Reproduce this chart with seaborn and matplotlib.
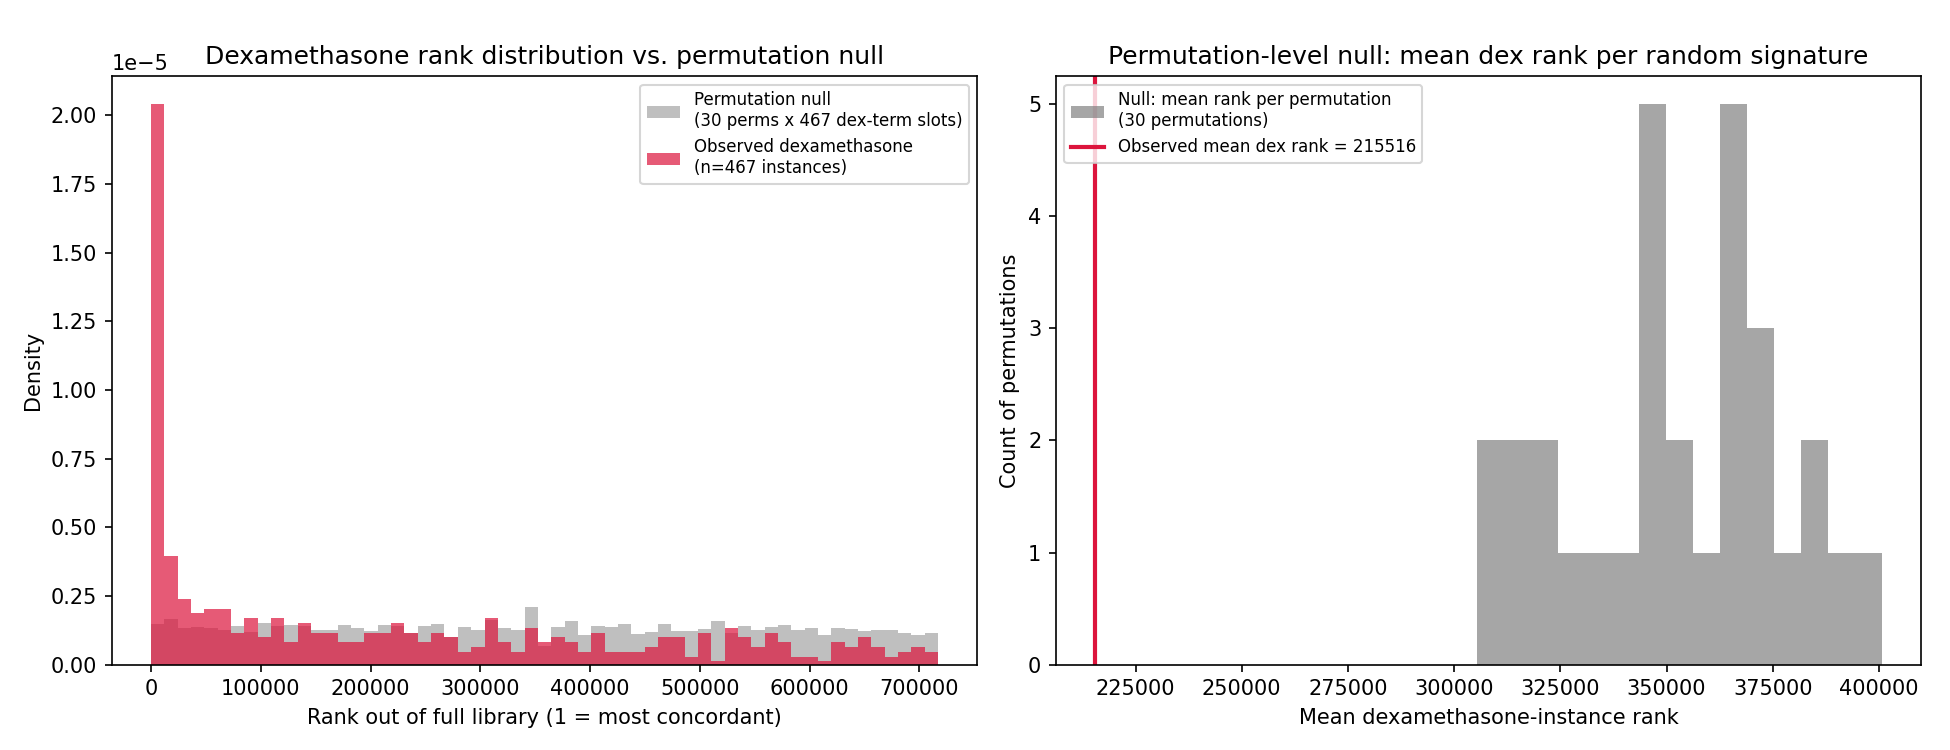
import matplotlib
matplotlib.use("Agg")
import matplotlib.pyplot as plt
import seaborn as sns
import numpy as np
import pandas as pd

# --- dados ---
# painel esquerdo: densidade por bin (x 1e-6), 59 bins de 0 a 717000
rank_max = 717000
n_bins_rank = 59
null_density = [1.46, 1.67, 1.34, 1.38, 1.34, 1.27, 1.41, 1.20, 1.52, 1.41,
                1.45, 1.41, 1.27, 1.27, 1.45, 1.34, 1.23, 1.45, 1.41, 1.16,
                1.41, 1.49, 1.01, 1.38, 1.27, 1.61, 1.34, 1.27, 2.10, 0.69,
                1.38, 1.59, 1.09, 1.41, 1.38, 1.49, 1.12, 1.20, 1.49, 1.23,
                1.23, 1.30, 1.59, 1.16, 1.41, 1.27, 1.38, 1.45, 1.27, 1.34,
                1.09, 1.34, 1.30, 1.23, 1.27, 1.27, 1.16, 1.09, 1.16]
obs_density = [20.4, 3.95, 2.39, 1.88, 2.03, 2.03, 1.16, 1.70, 1.01, 1.70,
               0.83, 1.52, 1.16, 1.16, 0.83, 0.83, 1.16, 1.16, 1.52, 1.16,
               0.83, 1.16, 1.01, 0.47, 0.65, 1.70, 0.83, 0.47, 1.34, 0.83,
               1.01, 0.83, 0.47, 1.16, 0.47, 0.47, 0.47, 0.65, 1.01, 1.01,
               0.29, 1.16, 0.145, 1.34, 1.01, 0.65, 1.16, 0.83, 0.29, 0.29,
               0.145, 0.83, 0.65, 1.01, 0.65, 0.29, 0.47, 0.65, 0.47]

# painel direito: contagem de permutacoes por bin (15 bins)
perm_lo = 305300
perm_hi = 400700
perm_counts = [2, 2, 2, 1, 1, 1, 5, 2, 1, 5, 3, 1, 2, 1, 1]
obs_mean_rank = 215516

edges = np.linspace(0, rank_max, n_bins_rank + 1)
df_rank = pd.DataFrame({
    'rank': (edges[:-1] + edges[1:]) / 2,
    'null': np.array(null_density) * 1e-6,
    'obs': np.array(obs_density) * 1e-6,
})
p_edges = np.linspace(perm_lo, perm_hi, len(perm_counts) + 1)
df_perm = pd.DataFrame({
    'mean_rank': (p_edges[:-1] + p_edges[1:]) / 2,
    'count': perm_counts,
})

fig, axes = plt.subplots(1, 2, figsize=(13, 5), dpi=150)

# --- 1. distribuicao de ranks ---
ax = axes[0]
sns.histplot(data=df_rank, x='rank', weights='null', bins=edges.tolist(),
             color='grey', alpha=0.5, linewidth=0, ax=ax,
             label='Permutation null\n(30 perms x 467 dex-term slots)')
sns.histplot(data=df_rank, x='rank', weights='obs', bins=edges.tolist(),
             color='crimson', alpha=0.7, linewidth=0, ax=ax,
             label='Observed dexamethasone\n(n=467 instances)')
ax.set_title('Dexamethasone rank distribution vs. permutation null', fontsize=12)
ax.set_xlabel('Rank out of full library (1 = most concordant)')
ax.set_ylabel('Density')
ax.legend(loc='upper right', fontsize=8)

# --- 2. null por permutacao ---
ax = axes[1]
sns.histplot(data=df_perm, x='mean_rank', weights='count', bins=p_edges.tolist(),
             color='grey', alpha=0.7, linewidth=0, ax=ax,
             label='Null: mean rank per permutation\n(30 permutations)')
ax.axvline(obs_mean_rank, color='crimson', lw=2,
           label=f'Observed mean dex rank = {obs_mean_rank}')
ax.set_title('Permutation-level null: mean dex rank per random signature', fontsize=12)
ax.set_xlabel('Mean dexamethasone-instance rank')
ax.set_ylabel('Count of permutations')
handles, labels = ax.get_legend_handles_labels()
ax.legend(handles[::-1], labels[::-1], loc='upper left', fontsize=8)

plt.tight_layout()
fig.savefig('out.png', dpi=150)
plt.close(fig)
